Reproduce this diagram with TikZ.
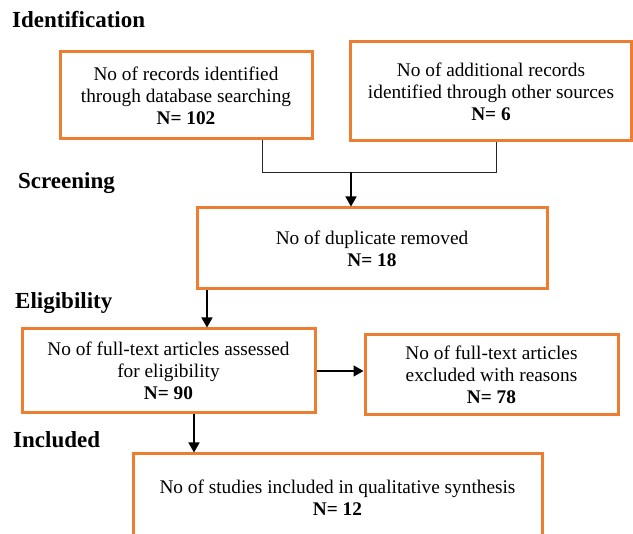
\documentclass[tikz,border=0pt]{standalone}
\usepackage{fontspec}
\setmainfont{Liberation Serif}
\usetikzlibrary{arrows.meta}
\definecolor{boxorange}{HTML}{ED7D31}
\tikzset{
  box/.style={draw=boxorange, line width=3pt, align=center, inner sep=0pt,
    font=\fontsize{19.3}{22}\selectfont},
  heading/.style={anchor=west, inner sep=0pt, font=\fontsize{23}{26}\selectfont\bfseries},
  conn/.style={line width=0.9pt, black!85},
  arr/.style={line width=1.6pt, black, -{Triangle[length=10pt,width=11pt]}},
}
\begin{document}
\begin{tikzpicture}[x=1pt,y=-1pt]
\useasboundingbox (0,0) rectangle (633,534);
\clip (0,0) rectangle (633,534);
\fill[white] (0,0) rectangle (633,534);

\node[heading] (hid) at (12,20) {Identification};
\node[heading] (hsc) at (18,183) {Screening};
\node[heading] (hel) at (15,303) {Eligibility};
\node[heading] (hin) at (13,440) {Included};

\node[box, minimum width=252pt, minimum height=87pt] (b1) at (186,95.5)
  {No of records identified\\through database searching\\\textbf{N= 102}};
\node[box, minimum width=281pt, minimum height=99pt] (b2) at (491,91.5)
  {No of additional records\\identified through other sources\\\textbf{N= 6}};
\node[box, minimum width=350pt, minimum height=81pt] (b3) at (372,248.5)
  {No of duplicate removed\\\textbf{N= 18}};
\node[box, minimum width=293pt, minimum height=84pt] (b4) at (168.5,371)
  {No of full-text articles assessed\\for eligibility\\\textbf{N= 90}};
\node[box, minimum width=253pt, minimum height=80pt] (b5) at (491.5,375)
  {No of full-text articles\\excluded with reasons\\\textbf{N= 78}};
\node[box, minimum width=409pt, minimum height=88pt] (b6) at (337.5,498)
  {No of studies included in qualitative synthesis\\\textbf{N= 12}};

\coordinate (x1) at (262,0);
\coordinate (x2) at (496,0);
\coordinate (j) at (351,172.5);
\coordinate (x3) at (207,0);
\coordinate (y4) at (0,371);
\coordinate (x5) at (194,0);

\draw[conn] (b1.south -| x1) |- (j);
\draw[conn] (b2.south -| x2) |- (j);
\draw[arr] (j) -- (b3.north -| j);
\draw[arr] (b3.south -| x3) -- (b4.north -| x3);
\draw[arr] (b4.east |- y4) -- (b5.west |- y4);
\draw[arr] (b4.south -| x5) -- (b6.north -| x5);
\end{tikzpicture}
\end{document}
